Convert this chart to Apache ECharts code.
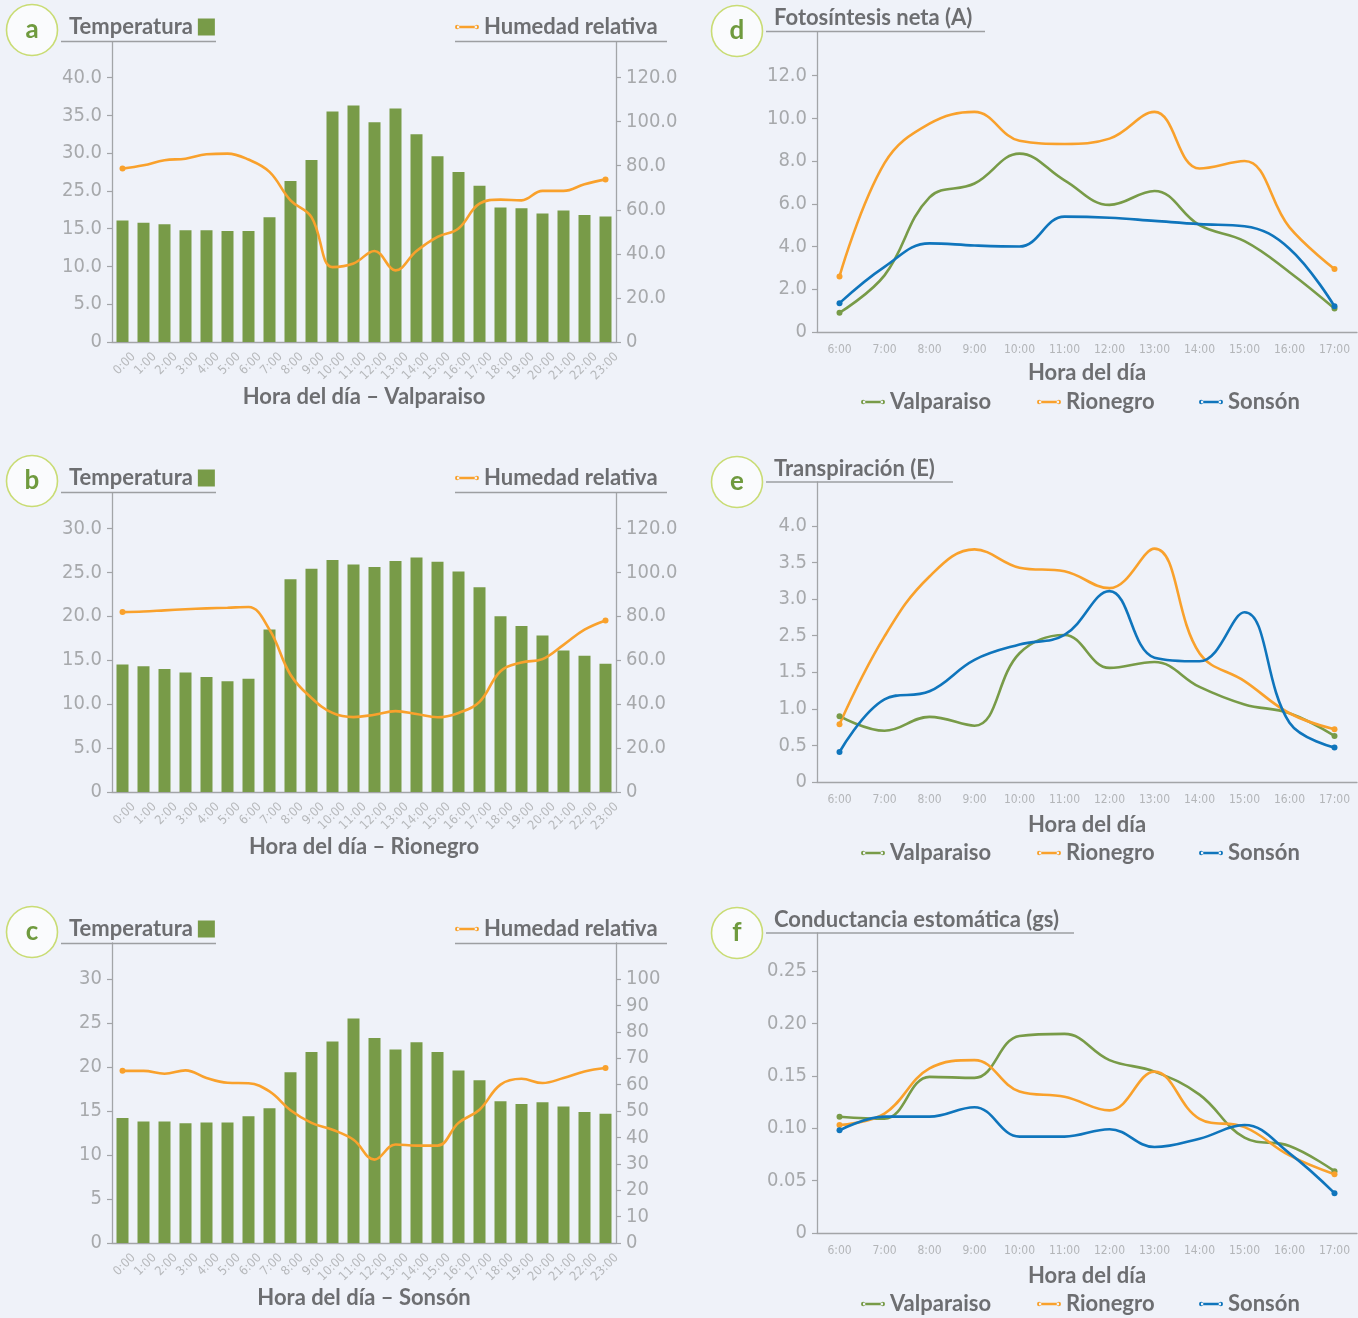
<!DOCTYPE html>
<html>
<head>
<meta charset="utf-8">
<script src="https://cdn.jsdelivr.net/npm/echarts@6/dist/echarts.min.js"></script>
<style>
html,body{margin:0;padding:0;background:#eff2f9;}
#chart{width:1358px;height:1318px;}
</style>
</head>
<body>
<div id="chart"></div>
<script>
// ---------- DATA ----------
const hours = ['0:00','1:00','2:00','3:00','4:00','5:00','6:00','7:00','8:00','9:00','10:00','11:00',
  '12:00','13:00','14:00','15:00','16:00','17:00','18:00','19:00','20:00','21:00','22:00','23:00'];
const dayHours = ['6:00','7:00','8:00','9:00','10:00','11:00','12:00','13:00','14:00','15:00','16:00','17:00'];

// Panel a – Valparaiso (temperature values as placed on the drawn scale)
const tempValparaiso = [16.1,15.8,15.6,14.8,14.8,14.7,14.7,16.5,21.3,24.1,30.5,31.3,29.1,30.9,27.5,24.6,22.5,20.7,17.8,17.7,17.0,17.4,16.8,16.6];
const humValparaiso  = [78.7,80.2,82.5,83.2,85.2,85.5,82.8,77.2,64.3,56.7,34.0,35.6,41.3,32.5,41.3,47.7,51.5,62.8,64.6,64.3,68.6,68.6,71.6,73.8];
// Panel b – Rionegro
const tempRionegro = [14.5,14.3,14.0,13.6,13.1,12.6,12.9,18.5,24.2,25.4,26.4,25.9,25.6,26.3,26.7,26.2,25.1,23.3,20.0,18.9,17.8,16.1,15.5,14.6];
const humRionegro  = [81.9,82.2,82.7,83.2,83.6,83.9,84.2,73.9,53.4,42.8,36.0,34.1,35.2,36.8,35.5,34.0,36.0,41.0,55.0,59.0,60.5,67.0,73.9,78.1];
// Panel c – Sonsón
const tempSonson = [14.2,13.8,13.8,13.6,13.7,13.7,14.4,15.3,19.4,21.7,22.9,25.5,23.3,22.0,22.8,21.7,19.6,18.5,16.1,15.8,16.0,15.5,14.9,14.7];
const humSonson  = [65.2,65.2,64.1,65.4,62.5,60.7,60.5,57.4,50.3,45.5,42.9,39.1,31.6,37.3,36.9,36.9,45.5,50.5,60.0,62.2,60.6,62.5,65.0,66.3];

// Panel d – Fotosíntesis neta (A)
const aValparaiso = [0.9,2.65,6.3,6.95,8.35,7.1,5.95,6.6,5.0,4.25,2.8,1.1];
const aRionegro   = [2.6,7.9,9.75,10.3,8.95,8.8,9.05,10.3,7.65,8.0,4.9,2.95];
const aSonson     = [1.35,3.05,4.15,4.05,4.0,5.4,5.35,5.2,5.05,4.95,3.9,1.2];
// Panel e – Transpiración (E) (values as placed on the drawn scale)
const eValparaiso = [0.90,0.70,0.89,0.77,1.76,2.01,1.56,1.64,1.30,1.06,0.94,0.63];
const eRionegro   = [0.79,1.99,2.81,3.18,2.93,2.88,2.65,3.19,1.76,1.38,0.94,0.72];
const eSonson     = [0.41,1.13,1.24,1.67,1.88,2.01,2.61,1.70,1.65,2.32,0.81,0.47];
// Panel f – Conductancia estomática (gs)
const gValparaiso = [0.111,0.109,0.149,0.148,0.188,0.190,0.165,0.154,0.132,0.091,0.083,0.059];
const gRionegro   = [0.103,0.114,0.157,0.165,0.135,0.130,0.117,0.154,0.109,0.101,0.074,0.056];
const gSonson     = [0.098,0.111,0.111,0.120,0.092,0.092,0.099,0.082,0.090,0.103,0.076,0.038];

// Tick values and tick labels
const ticksA_L = [0,5,10,15,20,25,30,35];
const labelsA_L = ['0','5.0','10.0','15.0','25.0','30.0','35.0','40.0'];
const ticksHum120 = [0,20,40,60,80,100,120];
const labelsHum120 = ['0','20.0','40.0','60.0','80.0','100.0','120.0'];
const ticksB_L = [0,5,10,15,20,25,30];
const labelsB_L = ['0','5.0','10.0','15.0','20.0','25.0','30.0'];
const ticksC_L = [0,5,10,15,20,25,30];
const labelsC_L = ['0','5','10','15','20','25','30'];
const ticksC_R = [0,10,20,30,40,50,60,70,80,90,100];
const labelsC_R = ['0','10','20','30','40','50','60','70','80','90','100'];
const ticksD = [0,2,4,6,8,10,12];
const labelsD = ['0','2.0','4.0','6.0','8.0','10.0','12.0'];
const ticksE = [0,0.5,1,1.5,2,2.5,3,3.5];
const labelsE = ['0','0.5','1.0','1.5','2.5','3.0','3.5','4.0'];
const ticksF = [0,0.05,0.10,0.15,0.20,0.25];
const labelsF = ['0','0.05','0.10','0.15','0.20','0.25'];

// ---------- STYLE ----------
const BG = '#eff2f9';
const GREEN = '#789b48';
const ORANGE = '#f9a12c';
const BLUE = '#0f75bc';
const GRAY_T = '#6d6e71';
const TICK_C = '#a7a9ac';
const AXIS_C = '#a3a5a8';
const F_NUM = '"Liberation Sans Narrow","DejaVu Sans Condensed","Roboto Condensed",Roboto,sans-serif';
const F_BOLD = 'Lato,"Open Sans",sans-serif';
const LINE_ICON = 'path://M2,1.8H22V4.2H2Z M0,3a2.2,2.2 0 1 0 4.4,0a2.2,2.2 0 1 0 -4.4,0Z M19.6,3a2.2,2.2 0 1 0 4.4,0a2.2,2.2 0 1 0 -4.4,0Z';

// panel geometry: [left, top, width, height, pixel span from 0 to top labelled tick]
const G = [
  {left:112, top:42,  width:504, height:300, span:264.4},
  {left:112, top:493, width:504, height:299, span:263.6},
  {left:112, top:943, width:504, height:300, span:264},
  {left:817, top:32,  width:540, height:300, span:256.4},
  {left:817, top:482, width:540, height:300, span:256},
  {left:817, top:933, width:540, height:300, span:262}
];
function extMax(g, topTick){ return topTick * g.height / g.span; }

function valAxis(gi, ticks, labels, position, fontSize){
  const g = G[gi];
  return {
    type:'value', gridIndex:gi, position:position, min:0,
    max: extMax(g, ticks[ticks.length-1]),
    splitLine:{show:false},
    axisLine:{show:true, lineStyle:{color:AXIS_C, width:1.3}},
    axisTick:{show:true, length:5, customValues:ticks, lineStyle:{color:AXIS_C, width:1.2}},
    axisLabel:{show:true, customValues:ticks, margin:10, color:TICK_C, fontFamily:F_NUM, fontSize:fontSize||20,
      formatter:function(v){
        const i = ticks.findIndex(t => Math.abs(t - v) < 1e-9);
        return i >= 0 ? labels[i] : '';
      }}
  };
}
const nameStyle = {color:GRAY_T, fontFamily:F_BOLD, fontWeight:'bold', fontSize:22};
function hourAxis(gi, name, gap){
  return {
    type:'category', gridIndex:gi, data:hours, boundaryGap:true,
    axisLine:{show:true, lineStyle:{color:AXIS_C, width:1.3}},
    axisTick:{show:false},
    axisLabel:{interval:0, rotate:45, fontSize:12.5, color:'#b6b8bb', fontFamily:F_NUM, margin:2,
      verticalAlign:'top', padding:[9,0,0,0]},
    name:name, nameLocation:'middle', nameGap:gap, nameTextStyle:nameStyle
  };
}
function dayAxis(gi, gap){
  return {
    type:'category', gridIndex:gi, data:dayHours, boundaryGap:true,
    axisLine:{show:true, lineStyle:{color:AXIS_C, width:1.3}},
    axisTick:{show:false},
    axisLabel:{interval:0, fontSize:12, color:'#b3b5b8', fontFamily:F_NUM, margin:12},
    name:'Hora del día', nameLocation:'middle', nameGap:gap, nameTextStyle:nameStyle
  };
}
function endSymbols(n){
  return function(v, p){ return (p.dataIndex === 0 || p.dataIndex === n-1) ? 6 : 0; };
}
function lineSeries(name, data, color, xi, yi){
  return {
    type:'line', name:name, data:data, xAxisIndex:xi, yAxisIndex:yi,
    smooth:0.4, showSymbol:true, showAllSymbol:true, symbol:'circle',
    symbolSize:endSymbols(data.length),
    lineStyle:{color:color, width:2.6}, itemStyle:{color:color}, z:5
  };
}
function barSeries(data, xi, yi){
  return {type:'bar', name:'Temperatura', data:data, xAxisIndex:xi, yAxisIndex:yi,
    barWidth:12, itemStyle:{color:GREEN}, z:2};
}

// ---------- LEGENDS ----------
const legendText = {color:GRAY_T, fontFamily:F_BOLD, fontWeight:'bold', fontSize:22};
const legends = [];
const panelTops = [0, 451, 902];
panelTops.forEach(function(dy){
  legends.push({left:69, top:16+dy, align:'right', itemWidth:17, itemHeight:17,
    data:[{name:'Temperatura', icon:'rect'}], textStyle:legendText, selectedMode:false, padding:0});
  legends.push({left:455, top:16+dy, itemWidth:24, itemHeight:6, itemGap:0,
    data:[{name:'Humedad relativa', icon:LINE_ICON}], textStyle:legendText, selectedMode:false, padding:0});
});
const seriesLegendLeft = [861, 1037, 1199];
const seriesNames = ['Valparaiso','Rionegro','Sonsón'];
[403, 854, 1305].forEach(function(cy){
  seriesNames.forEach(function(nm, k){
    legends.push({left:seriesLegendLeft[k], top:cy-12, itemWidth:24, itemHeight:6,
      data:[{name:nm, icon:LINE_ICON}], textStyle:legendText, selectedMode:false, padding:0});
  });
});

// ---------- GRAPHICS (panel badges, titles, underlines) ----------
const graphic = [];
function badge(cx, cy, letter){
  graphic.push({type:'circle', shape:{cx:cx, cy:cy, r:25.5},
    style:{fill:'#fafbfd', stroke:'#c9dc74', lineWidth:1.6}, z:10});
  graphic.push({type:'text', x:cx, y:cy, z:11,
    style:{text:letter, align:'center', verticalAlign:'middle', fill:'#6f9a3e',
      font:'bold 26px ' + F_BOLD}});
}
function uline(x1, x2, y){
  graphic.push({type:'line', shape:{x1:x1, y1:y, x2:x2, y2:y},
    style:{stroke:'#9d9fa2', lineWidth:1.3}, z:10});
}
function title(x, y, text){
  graphic.push({type:'text', x:x, y:y, z:11,
    style:{text:text, align:'left', verticalAlign:'middle', fill:GRAY_T, font:'bold 22px ' + F_BOLD}});
}
panelTops.forEach(function(dy, i){
  badge(32, 30+dy, ['a','b','c'][i]);
  uline(61, 216, 41.5+dy);
  uline(455, 667, 41.5+dy);
});
badge(737, 31, 'd'); title(774, 18, 'Fotosíntesis neta (A)'); uline(766, 985, 31.5);
badge(737, 482, 'e'); title(774, 469, 'Transpiración (E)'); uline(766, 953, 482);
badge(737, 933, 'f'); title(774, 920, 'Conductancia estomática (gs)'); uline(766, 1074, 933);

// ---------- OPTION ----------
const option = {
  backgroundColor: BG,
  animation:false,
  grid: G.map(g => ({left:g.left, top:g.top, width:g.width, height:g.height, containLabel:false})),
  legend: legends,
  graphic: graphic,
  xAxis: [
    hourAxis(0, 'Hora del día – Valparaiso', 42),
    hourAxis(1, 'Hora del día – Rionegro', 44),
    hourAxis(2, 'Hora del día – Sonsón', 43),
    dayAxis(3, 30), dayAxis(4, 32), dayAxis(5, 32)
  ],
  yAxis: [
    valAxis(0, ticksA_L, labelsA_L, 'left'),
    valAxis(0, ticksHum120, labelsHum120, 'right'),
    valAxis(1, ticksB_L, labelsB_L, 'left'),
    valAxis(1, ticksHum120, labelsHum120, 'right'),
    valAxis(2, ticksC_L, labelsC_L, 'left'),
    valAxis(2, ticksC_R, labelsC_R, 'right'),
    valAxis(3, ticksD, labelsD, 'left'),
    valAxis(4, ticksE, labelsE, 'left'),
    valAxis(5, ticksF, labelsF, 'left')
  ],
  series: [
    barSeries(tempValparaiso, 0, 0), lineSeries('Humedad relativa', humValparaiso, ORANGE, 0, 1),
    barSeries(tempRionegro, 1, 2),   lineSeries('Humedad relativa', humRionegro, ORANGE, 1, 3),
    barSeries(tempSonson, 2, 4),     lineSeries('Humedad relativa', humSonson, ORANGE, 2, 5),
    lineSeries('Valparaiso', aValparaiso, GREEN, 3, 6),
    lineSeries('Rionegro', aRionegro, ORANGE, 3, 6),
    lineSeries('Sonsón', aSonson, BLUE, 3, 6),
    lineSeries('Valparaiso', eValparaiso, GREEN, 4, 7),
    lineSeries('Rionegro', eRionegro, ORANGE, 4, 7),
    lineSeries('Sonsón', eSonson, BLUE, 4, 7),
    lineSeries('Valparaiso', gValparaiso, GREEN, 5, 8),
    lineSeries('Rionegro', gRionegro, ORANGE, 5, 8),
    lineSeries('Sonsón', gSonson, BLUE, 5, 8)
  ]
};
const chart = echarts.init(document.getElementById('chart'), null, {renderer:'canvas'});
chart.setOption(option);
</script>
</body>
</html>
